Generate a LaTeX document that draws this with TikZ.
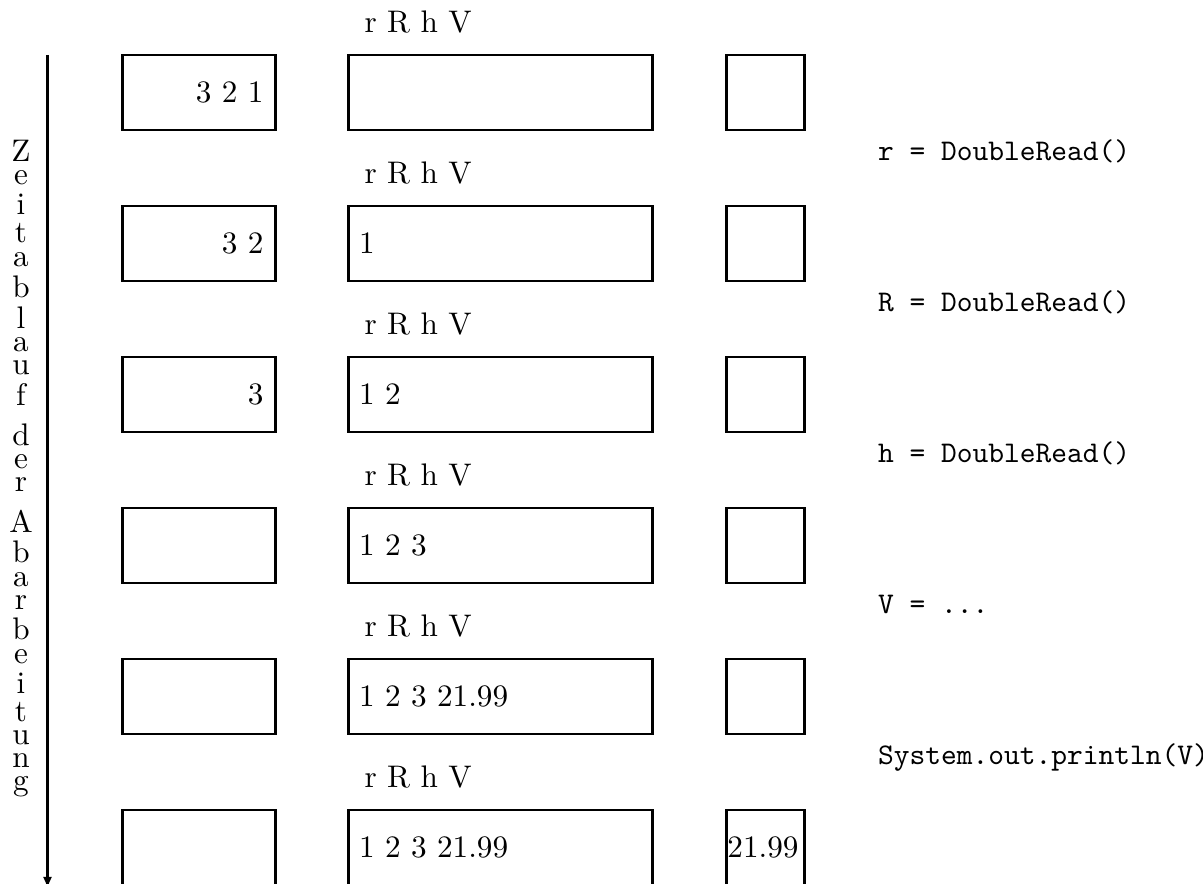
\documentclass[tikz,border=0pt]{standalone}
\usepackage{fontspec}
\usetikzlibrary{arrows.meta}
\begin{document}
\begin{tikzpicture}[x=0.33333pt,y=-0.33333pt,
  box/.style={draw, line width=0.9pt, inner sep=0pt, minimum height=25pt},
  lbox/.style={box, minimum width=50.77pt},
  mbox/.style={box, minimum width=101.4pt},
  rbox/.style={box, minimum width=25.85pt},
  rmtext/.style={font=\fontsize{10.4}{12.5}\selectfont, inner sep=0pt},
  varlabel/.style={rmtext, anchor=base west},
  lefttext/.style={rmtext, anchor=base east},
  midtext/.style={rmtext, anchor=base west},
  code/.style={font=\fontsize{10}{12}\selectfont\ttfamily, inner sep=0pt, anchor=base west},
  timeline/.style={line width=1.3pt, -{Latex[length=4pt,width=3pt]}}]
\useasboundingbox (0,0) rectangle (1203,884);

% time axis
\node[rmtext, anchor=north] (zeit) at (21,140)
  {\shortstack{Z\\e\\i\\t\\a\\b\\l\\a\\u\\f\\ \\d\\e\\r\\ \\A\\b\\a\\r\\b\\e\\i\\t\\u\\n\\g}};
\coordinate (tstart) at (47.5,55);
\coordinate (tend) at (47.5,889);
\draw[timeline] (tstart) -- (tend);

% row 1
\node[varlabel] (v1) at (364,33) {r R h V};
\node[lbox] (a1) at (199,92.5) {};
\node[mbox] (b1) at (500.6,92.5) {};
\node[rbox] (c1) at (765.5,92.5) {};
\node[lefttext] (ta1) at (264,102.5) {3 2 1};
\node[code] (s1) at (877.5,161) {r = DoubleRead()};

% row 2
\node[varlabel] (v2) at (364,184) {r R h V};
\node[lbox] (a2) at (199,243.5) {};
\node[mbox] (b2) at (500.6,243.5) {};
\node[rbox] (c2) at (765.5,243.5) {};
\node[lefttext] (ta2) at (264,253.5) {3 2};
\node[midtext] (tb2) at (358.5,253.5) {1};
\node[code] (s2) at (877.5,312) {R = DoubleRead()};

% row 3
\node[varlabel] (v3) at (364,335) {r R h V};
\node[lbox] (a3) at (199,394.5) {};
\node[mbox] (b3) at (500.6,394.5) {};
\node[rbox] (c3) at (765.5,394.5) {};
\node[lefttext] (ta3) at (264,404.5) {3};
\node[midtext] (tb3) at (358.5,404.5) {1 2};
\node[code] (s3) at (877.5,463) {h = DoubleRead()};

% row 4
\node[varlabel] (v4) at (364,486) {r R h V};
\node[lbox] (a4) at (199,545.5) {};
\node[mbox] (b4) at (500.6,545.5) {};
\node[rbox] (c4) at (765.5,545.5) {};
\node[midtext] (tb4) at (358.5,555.5) {1 2 3};
\node[code] (s4) at (877.5,614) {V = ...};

% row 5
\node[varlabel] (v5) at (364,637) {r R h V};
\node[lbox] (a5) at (199,696.5) {};
\node[mbox] (b5) at (500.6,696.5) {};
\node[rbox] (c5) at (765.5,696.5) {};
\node[midtext] (tb5) at (358.5,706.5) {1 2 3 21.99};
\node[code] (s5) at (877.5,765) {System.out.println(V)};

% row 6
\node[varlabel] (v6) at (364,788) {r R h V};
\node[lbox] (a6) at (199,847.5) {};
\node[mbox] (b6) at (500.6,847.5) {};
\node[rbox] (c6) at (765.5,847.5) {};
\node[midtext] (tb6) at (358.5,857.5) {1 2 3 21.99};
\node[midtext] (tc6) at (726.8,857.5) {21.99};
\end{tikzpicture}
\end{document}
